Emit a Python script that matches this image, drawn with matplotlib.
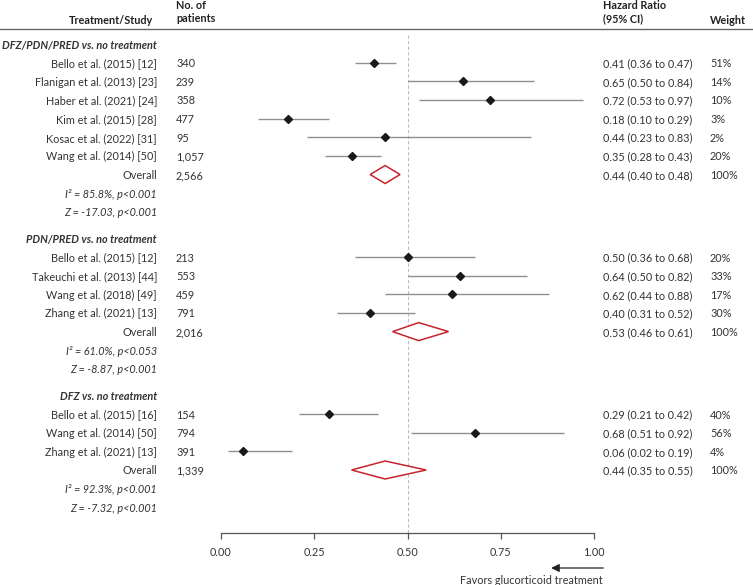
import matplotlib.pyplot as plt
import matplotlib.transforms as mtransforms
from matplotlib.lines import Line2D
from matplotlib.patches import Polygon

plt.rcParams['font.family'] = ['Lato', 'DejaVu Sans']

# ---- data ----
group_titles = ["DFZ/PDN/PRED vs. no treatment", "PDN/PRED vs. no treatment", "DFZ vs. no treatment"]

g1_studies = ["Bello et al. (2015) [12]", "Flanigan et al. (2013) [23]", "Haber et al. (2021) [24]",
              "Kim et al. (2015) [28]", "Kosac et al. (2022) [31]", "Wang et al. (2014) [50]"]
g1_n = ["340", "239", "358", "477", "95", "1,057"]
g1_hr = [0.41, 0.65, 0.72, 0.18, 0.44, 0.35]
g1_lo = [0.36, 0.50, 0.53, 0.10, 0.23, 0.28]
g1_hi = [0.47, 0.84, 0.97, 0.29, 0.83, 0.43]
g1_w = [51, 14, 10, 3, 2, 20]
g1_overall = ("2,566", 0.44, 0.40, 0.48)
g1_stats = ("85.8%", "p<0.001", "-17.03", "p<0.001")

g2_studies = ["Bello et al. (2015) [12]", "Takeuchi et al. (2013) [44]", "Wang et al. (2018) [49]",
              "Zhang et al. (2021) [13]"]
g2_n = ["213", "553", "459", "791"]
g2_hr = [0.50, 0.64, 0.62, 0.40]
g2_lo = [0.36, 0.50, 0.44, 0.31]
g2_hi = [0.68, 0.82, 0.88, 0.52]
g2_w = [20, 33, 17, 30]
g2_overall = ("2,016", 0.53, 0.46, 0.61)
g2_stats = ("61.0%", "p<0.053", "-8.87", "p<0.001")

g3_studies = ["Bello et al. (2015) [16]", "Wang et al. (2014) [50]", "Zhang et al. (2021) [13]"]
g3_n = ["154", "794", "391"]
g3_hr = [0.29, 0.68, 0.06]
g3_lo = [0.21, 0.51, 0.02]
g3_hi = [0.42, 0.92, 0.19]
g3_w = [40, 56, 4]
g3_overall = ("1,339", 0.44, 0.35, 0.55)
g3_stats = ("92.3%", "p<0.001", "-7.32", "p<0.001")

xticks = [0.0, 0.25, 0.5, 0.75, 1.0]

groups = [
    (g1_studies, g1_n, g1_hr, g1_lo, g1_hi, g1_w, g1_overall, g1_stats),
    (g2_studies, g2_n, g2_hr, g2_lo, g2_hi, g2_w, g2_overall, g2_stats),
    (g3_studies, g3_n, g3_hr, g3_lo, g3_hi, g3_w, g3_overall, g3_stats),
]

# ---- layout (figure pixels, 753x585) ----
W, H = 753, 585
fig = plt.figure(figsize=(W / 100, H / 100), dpi=100)
ax_left, ax_right, ax_top, ax_bottom = 221, 594, 29, 533
ax = fig.add_axes([ax_left / W, (H - ax_bottom) / H, (ax_right - ax_left) / W, (ax_bottom - ax_top) / H])
ax.set_xlim(0, 1)
ax.set_ylim(ax_bottom, ax_top)  # y in pixel rows from the top

fs = 7.8
txt = mtransforms.blended_transform_factory(fig.transFigure, ax.transData)
col_label, col_n, col_hr, col_w = 157 / W, 176 / W, 603 / W, 710 / W
red = '#c8232c'
tc = '#333333'


def put(x, y, s, ha='left', **kw):
    fig.text(x, y, s, transform=txt, ha=ha, va='center_baseline', fontsize=fs, color=tc, **kw)


step, gap = 18.65, 26.5
y = 44
for title, (studies, ns, hr, lo, hi, w, overall, stats) in zip(group_titles, groups):
    put(col_label, y, title, ha='right', fontweight='bold', fontstyle='italic')
    for s, n, h, l, u, wt in zip(studies, ns, hr, lo, hi, w):
        y += step
        ax.plot([l, u], [y, y], color='#8f8f8f', lw=1.0, solid_capstyle='butt', zorder=2)
        ax.plot(h, y, marker='D', ms=3.6, color='#1a1a1a', zorder=3)
        put(col_label, y, s, ha='right')
        put(col_n, y, n)
        put(col_hr, y, f"{h:.2f} ({l:.2f} to {u:.2f})")
        put(col_w, y, f"{wt}%")
    y += step
    on, oh, ol, ou = overall
    half = 9
    ax.add_patch(Polygon([(ol, y), (oh, y - half), (ou, y), (oh, y + half)], closed=True,
                         facecolor='white', edgecolor=red, lw=1.1, zorder=3))
    put(col_label, y, "Overall", ha='right')
    put(col_n, y, on)
    put(col_hr, y, f"{oh:.2f} ({ol:.2f} to {ou:.2f})")
    put(col_w, y, "100%")
    i2, p1, z, p2 = stats
    y += step
    put(col_label, y, f"I\u00b2 = {i2}, {p1}", ha='right', fontstyle='italic')
    y += step
    put(col_label, y, f"Z = {z}, {p2}", ha='right', fontstyle='italic')
    y += gap

# reference line
ax.vlines(0.5, 35, ax_bottom, colors='#bdbdbd', linestyles=(0, (3, 2)), lw=0.8, zorder=1)

# axis styling
for side in ['top', 'right', 'left']:
    ax.spines[side].set_visible(False)
ax.spines['bottom'].set_color('#555555')
ax.spines['bottom'].set_linewidth(0.9)
ax.set_yticks([])
ax.set_xticks(xticks)
ax.set_xticklabels([f"{t:.2f}" for t in xticks], fontsize=fs, color=tc)
ax.tick_params(axis='x', direction='out', length=4, width=0.9, color='#555555', pad=6)

# header
hy = 1 - 29 / H
fig.add_artist(Line2D([0, 1], [hy, hy], transform=fig.transFigure, color='#666666', lw=1.0))
fig.text(153 / W, 1 - 19 / H, "Treatment/Study", ha='right', va='center_baseline', fontsize=fs,
         fontweight='bold', color='#222222')
fig.text(col_n, 1 - 12 / H, "No. of\npatients", ha='left', va='center', fontsize=fs,
         fontweight='bold', color='#222222', linespacing=1.25)
fig.text(col_hr, 1 - 12 / H, "Hazard Ratio\n(95% CI)", ha='left', va='center', fontsize=fs,
         fontweight='bold', color='#222222', linespacing=1.25)
fig.text(col_w, 1 - 19 / H, "Weight", ha='left', va='center_baseline', fontsize=fs,
         fontweight='bold', color='#222222')

# favours arrow
arr = mtransforms.blended_transform_factory(ax.transData, fig.transFigure)
ax.annotate("", xy=(0.885, 1 - 568 / H), xycoords=arr, xytext=(1.025, 1 - 568 / H), textcoords=arr,
            arrowprops=dict(arrowstyle='-|>', color='#222222', lw=0.9, mutation_scale=12,
                            shrinkA=0, shrinkB=0),
            annotation_clip=False)
fig.text(603 / W, 1 - 580 / H, "Favors glucorticoid treatment", ha='right', va='center_baseline',
         fontsize=fs, color=tc)

fig.savefig("out.png", dpi=100)
